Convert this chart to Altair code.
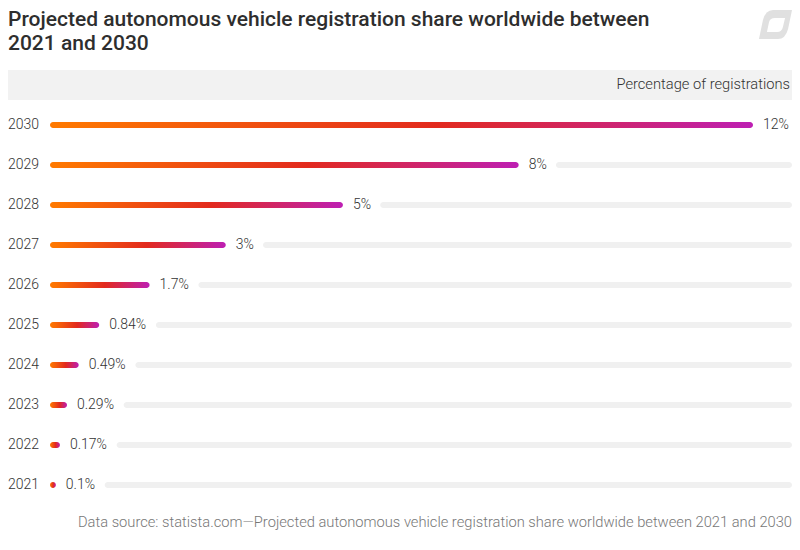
import altair as alt
import pandas as pd

# ---------------- data ----------------
years = [2030, 2029, 2028, 2027, 2026, 2025, 2024, 2023, 2022, 2021]
shares = [12, 8, 5, 3, 1.7, 0.84, 0.49, 0.29, 0.17, 0.1]
share_labels = ["12%", "8%", "5%", "3%", "1.7%", "0.84%", "0.49%", "0.29%", "0.17%", "0.1%"]
title_line1 = "Projected autonomous vehicle registration share worldwide between"
title_line2 = "2021 and 2030"
axis_title = "Percentage of registrations"
source_note = ("Data source: statista.com\u2014Projected autonomous vehicle registration "
               "share worldwide between 2021 and 2030")

# ---------------- layout / style ----------------
W, H = 784, 526
X0, X1 = 42, 745
XMAX = 12
BAND0, BAND1 = 97, 497
FONT = "Roboto"
TXT = "#333333"

char_w = {d: 7.86 for d in "0123456789"}
char_w["."] = 3.7
char_w["%"] = 10.4


def text_width(s):
    return sum(char_w.get(c, 7.5) for c in s)


px_per_unit = (X1 - X0) / XMAX
x_right = (W - X0) / px_per_unit  # data value at right edge

df = pd.DataFrame({"year": years, "share": shares, "label": share_labels})
df["track_start"] = df["share"] + (10 + df["label"].map(text_width) + 9) / px_per_unit
track_df = df[df["track_start"] < x_right - 0.15].copy()

xscale = alt.Scale(domain=[0, XMAX], range=[X0, X1])
yenc = alt.Y("year:O", sort="descending",
             scale=alt.Scale(range=[BAND0, BAND1], paddingInner=0, paddingOuter=0),
             axis=None)

gradient = alt.Gradient(
    gradient="linear",
    stops=[alt.GradientStop(color="#ff7a00", offset=0),
           alt.GradientStop(color="#e22a1e", offset=0.55),
           alt.GradientStop(color="#bd1fb3", offset=1)],
    x1=0, x2=1, y1=0, y2=0,
)

one = pd.DataFrame({"k": [0]})

header_band = alt.Chart(one).mark_rect(color="#f2f2f2").encode(
    x=alt.value(0), x2=alt.value(W), y=alt.value(62), y2=alt.value(92))

header_text = alt.Chart(one).mark_text(
    align="right", baseline="middle", fontSize=14.7, font=FONT, fontWeight=300, color=TXT
).encode(x=alt.value(782), y=alt.value(77), text=alt.value(axis_title))

title1 = alt.Chart(one).mark_text(
    align="left", baseline="alphabetic", fontSize=21, font=FONT, fontWeight=500, color="#2e2e2e"
).encode(x=alt.value(0), y=alt.value(18), text=alt.value(title_line1))

title2 = alt.Chart(one).mark_text(
    align="left", baseline="alphabetic", fontSize=21, font=FONT, fontWeight=500, color="#2e2e2e"
).encode(x=alt.value(0), y=alt.value(42), text=alt.value(title_line2))

footer = alt.Chart(one).mark_text(
    align="right", baseline="middle", fontSize=14.7, font=FONT, fontWeight=300, color="#777777"
).encode(x=alt.value(W), y=alt.value(515), text=alt.value(source_note))

icon_outer = alt.Chart(one).mark_point(
    shape="M -1 0.88 L -0.76 -0.27 Q -0.6 -0.88 -0.15 -0.88 L 1 -0.88 L 0.76 0.27 Q 0.6 0.88 0.15 0.88 Z",
    size=1089, filled=True, fill="#e0e0e0", opacity=1, strokeWidth=0
).encode(x=alt.value(W - 16.5), y=alt.value(16.5))

icon_inner = alt.Chart(one).mark_point(
    shape="M -0.52 0.45 L -0.39 -0.15 Q -0.33 -0.39 -0.03 -0.39 L 0.58 -0.39 L 0.45 0.15 Q 0.39 0.45 0.09 0.45 Z",
    size=1089, filled=True, fill="#ffffff", opacity=1, strokeWidth=0
).encode(x=alt.value(W - 16.5), y=alt.value(16.5))

tracks = alt.Chart(track_df).mark_bar(size=6, cornerRadius=3, color="#f0f0f0").encode(
    x=alt.X("track_start:Q", scale=xscale, axis=None),
    x2=alt.datum(x_right),
    y=yenc,
)

bars = alt.Chart(df).mark_bar(size=6, cornerRadius=3, color=gradient).encode(
    x=alt.X("share:Q", scale=xscale, axis=None),
    x2=alt.datum(0),
    y=yenc,
)

value_labels = alt.Chart(df).mark_text(
    align="left", baseline="middle", dx=10, fontSize=14, font=FONT, fontWeight=300, color=TXT
).encode(
    x=alt.X("share:Q", scale=xscale, axis=None),
    y=yenc,
    text="label:N",
)

year_labels = alt.Chart(df).mark_text(
    align="left", baseline="middle", fontSize=14, font=FONT, fontWeight=300, color=TXT
).encode(
    x=alt.value(0),
    y=yenc,
    text="year:N",
)

chart = alt.layer(
    header_band, header_text, title1, title2, footer, icon_outer, icon_inner,
    tracks, bars, value_labels, year_labels,
).properties(
    width=W, height=H, autosize="none", padding=0, background="#ffffff"
).configure_view(stroke=None)

chart.save("out.html", embed_options={"renderer": "svg", "actions": False})
